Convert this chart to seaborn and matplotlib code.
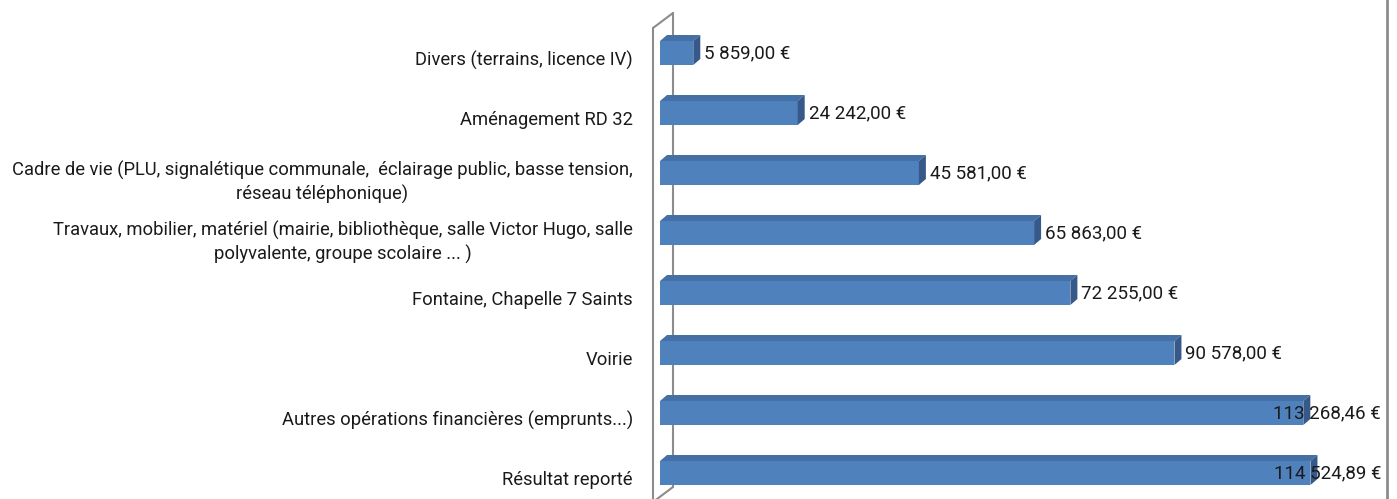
import matplotlib
matplotlib.use("Agg")
import matplotlib.pyplot as plt
import seaborn as sns
import pandas as pd
from matplotlib.patches import Polygon
from matplotlib.lines import Line2D
from matplotlib.transforms import ScaledTranslation

categories = [
    "Divers (terrains, licence IV)",
    "Aménagement RD 32",
    "Cadre de vie (PLU, signalétique communale,  éclairage public, basse tension,\nréseau téléphonique)",
    "Travaux, mobilier, matériel (mairie, bibliothèque, salle Victor Hugo, salle\npolyvalente, groupe scolaire ... )",
    "Fontaine, Chapelle 7 Saints",
    "Voirie",
    "Autres opérations financières (emprunts...)",
    "Résultat reporté",
]
values = [5859.00, 24242.00, 45581.00, 65863.00, 72255.00, 90578.00, 113268.46, 114524.89]
value_labels = ["5 859,00 €", "24 242,00 €", "45 581,00 €", "65 863,00 €",
                "72 255,00 €", "90 578,00 €", "113 268,46 €", "114 524,89 €"]

df = pd.DataFrame({"poste": categories, "montant": values})

sns.set_style("white")
plt.rcParams['font.family'] = ['Roboto', 'DejaVu Sans']

W, H = 1397, 499
fig = plt.figure(figsize=(W / 100, H / 100), dpi=100)
ax_left, ax_right, ax_top, ax_bottom = 660, 1387, 23, 499
ax = fig.add_axes([ax_left / W, 1 - ax_bottom / H, (ax_right - ax_left) / W, (ax_bottom - ax_top) / H])

face = "#4F81BD"
top_c = "#4570A5"
side_c = "#36598A"
sns.barplot(data=df, x="montant", y="poste", orient="h", color=face, saturation=1,
            width=0.4, ax=ax, zorder=3)

xmax = 128000
ax.set_xlim(0, xmax)
ax.set_ylim(7.5 - 4 / 60, -0.5)

# pixel -> data conversions
px_x = xmax / (ax_right - ax_left)
px_y = 1 / 60
dx, dy = 7 * px_x, 6 * px_y

for p in ax.patches:
    p.set_edgecolor("none")
    x0, y0 = p.get_x(), p.get_y()
    w, h = p.get_width(), p.get_height()
    top = Polygon([(x0, y0), (x0 + w, y0), (x0 + w + dx, y0 - dy), (x0 + dx, y0 - dy)],
                  closed=True, facecolor=top_c, edgecolor="none", zorder=3)
    side = Polygon([(x0 + w, y0), (x0 + w + dx, y0 - dy), (x0 + w + dx, y0 + h - dy), (x0 + w, y0 + h)],
                   closed=True, facecolor=side_c, edgecolor="none", zorder=3)
    ax.add_patch(top)
    ax.add_patch(side)

# 3D wall on the category axis
wall = "#8C8C8C"
y_px = lambda py: (py - ax_top) * px_y - 0.5
ax.plot([-7 * px_x, -7 * px_x], [y_px(28), y_px(505)], color=wall, lw=1.5, clip_on=False, zorder=2)
ax.plot([-7 * px_x, 13 * px_x], [y_px(28), y_px(13)], color=wall, lw=1.5, clip_on=False, zorder=2)
ax.plot([13 * px_x, 13 * px_x], [y_px(13), y_px(487)], color=wall, lw=1.5, clip_on=False, zorder=1)
ax.plot([13 * px_x, -7 * px_x], [y_px(487), y_px(502)], color=wall, lw=1.5, clip_on=False, zorder=1)

fig.add_artist(Line2D([ax_right / W, ax_right / W], [0, 1], color="#8C8C8C", lw=2, transform=fig.transFigure))

for s in ax.spines.values():
    s.set_visible(False)
ax.set_xticks([])
ax.set_xlabel("")
ax.set_ylabel("")
ax.tick_params(axis="y", length=0, pad=19.5, labelsize=13.2, labelcolor="#1a1a1a")
shift = ScaledTranslation(0, -5 / 100, fig.dpi_scale_trans)
for lbl in ax.get_yticklabels():
    lbl.set_multialignment("center")
    lbl.set_linespacing(1.3)
    lbl.set_transform(lbl.get_transform() + shift)

texts = []
for i, (v, t) in enumerate(zip(values, value_labels)):
    txt = ax.text(v + dx + 4 * px_x, i, t, ha="left", va="center", fontsize=13.5,
                  color="#1a1a1a", zorder=5, clip_on=False)
    texts.append(txt)

fig.canvas.draw()
renderer = fig.canvas.get_renderer()
for txt in texts:
    bb = txt.get_window_extent(renderer)
    limit = ax_right - 6
    if bb.x1 > limit:
        x, y = txt.get_position()
        txt.set_position((x - (bb.x1 - limit) * px_x, y))

fig.savefig("out.png", dpi=100, facecolor="white")
